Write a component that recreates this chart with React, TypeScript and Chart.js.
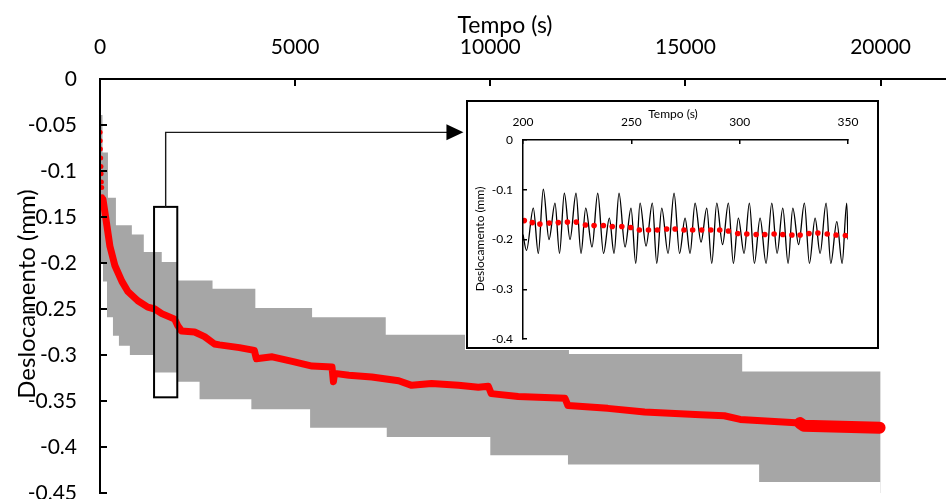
import React, { useEffect, useRef } from 'react';
import { Chart, registerables } from 'chart.js';

Chart.register(...registerables);

// ---------- main chart data ----------
const xTicks = [0, 5000, 10000, 15000, 20000];
const xTickLabels = ['0', '5000', '10000', '15000', '20000'];
const yTicks = [-0.45, -0.4, -0.35, -0.3, -0.25, -0.2, -0.15, -0.1, -0.05, 0];
const yTickLabels = ['-0.45', '-0.4', '-0.35', '-0.3', '-0.25', '-0.2', '-0.15', '-0.1', '-0.05', '0'];

// envelope of the oscillation (step edges: value holds from x[i] to x[i+1])
const bandTopX = [0, 26, 64, 204, 408, 816, 1122, 1582, 1990, 2883, 3980, 5434, 7321, 12015, 16454, 20000];
const bandTopY = [0, -0.039, -0.08, -0.129, -0.159, -0.169, -0.188, -0.199, -0.219, -0.228, -0.249, -0.259, -0.278, -0.299, -0.318, -0.318];
const bandLowX = [0, 77, 179, 332, 485, 765, 1403, 1990, 2551, 3878, 5383, 7347, 10000, 11990, 16888, 20000];
const bandLowY = [-0.2, -0.22, -0.259, -0.279, -0.29, -0.3, -0.319, -0.329, -0.348, -0.359, -0.379, -0.389, -0.409, -0.419, -0.438, -0.438];

// mean displacement
const meanX = [77, 179, 255, 383, 561, 714, 969, 1224, 1403, 1582, 1913, 1990, 2092, 2423, 2679, 2934, 3061, 3571, 3954, 4005, 4413, 4923, 5434, 5944, 5980, 6010, 6378, 6964, 7653, 7985, 8495, 9184, 9694, 9949, 10025, 10714, 11913, 11990, 13010, 13954, 15383, 15995, 16403, 17168, 17934, 18036, 19974];
const meanY = [-0.131, -0.16, -0.182, -0.203, -0.22, -0.231, -0.241, -0.248, -0.25, -0.255, -0.261, -0.268, -0.274, -0.275, -0.28, -0.288, -0.289, -0.292, -0.295, -0.304, -0.302, -0.307, -0.312, -0.313, -0.329, -0.32, -0.322, -0.324, -0.328, -0.333, -0.331, -0.333, -0.335, -0.334, -0.342, -0.345, -0.347, -0.355, -0.358, -0.362, -0.365, -0.366, -0.37, -0.372, -0.374, -0.377, -0.379];
const meanStartX = [2, 5, 9, 17, 24, 28, 34, 43, 58];
const meanStartY = [-0.058, -0.067, -0.076, -0.086, -0.095, -0.103, -0.112, -0.118, -0.128];

// zoom box and arrow (data units)
const zoomBoxX = [1385, 1980];
const zoomBoxY = [-0.139, -0.346];
const arrowY = -0.058;
const arrowTipX = 9311;

// ---------- inset data ----------
const inXTicks = [200, 250, 300, 350];
const inYTicks = [-0.4, -0.3, -0.2, -0.1, 0];
const inYTickLabels = ['-0.4', '-0.3', '-0.2', '-0.1', '0'];

const waveT = [200, 201.6, 204.76, 207.06, 209.37, 212.0, 214.77, 216.85, 219.07, 221.7, 224.47, 226.78, 228.95, 231.86, 234.49, 237.17, 239.85, 242.01, 244.32, 247.09, 249.86, 252.03, 254.02, 256.79, 259.7, 261.73, 264.04, 266.95, 269.72, 272.26, 274.8, 277.1, 279.41, 282.18, 284.81, 287.12, 289.43, 292.11, 294.79, 297.1, 299.4, 302.04, 304.48, 306.79, 309.42, 312.19, 314.82, 317.27, 319.9, 322.35, 324.52, 327.2, 329.88, 332.19, 334.82, 337.12, 339.89, 342.06, 344.83, 347.3, 349.4, 350];
const waveV = [-0.19, -0.222, -0.137, -0.228, -0.099, -0.2, -0.127, -0.228, -0.107, -0.2, -0.107, -0.228, -0.137, -0.215, -0.107, -0.228, -0.157, -0.228, -0.107, -0.215, -0.137, -0.248, -0.127, -0.213, -0.127, -0.248, -0.137, -0.228, -0.107, -0.228, -0.157, -0.228, -0.127, -0.205, -0.137, -0.248, -0.127, -0.21, -0.127, -0.248, -0.157, -0.228, -0.127, -0.248, -0.157, -0.248, -0.127, -0.228, -0.137, -0.248, -0.137, -0.21, -0.127, -0.248, -0.157, -0.228, -0.127, -0.248, -0.164, -0.248, -0.127, -0.2];

const inMeanT = [200.6, 204.3, 207.8, 212.1, 216.3, 220.5, 224.6, 228.8, 232.8, 237.1, 241.2, 245.6, 249.7, 253.7, 257.9, 262.0, 266.3, 270.2, 274.3, 278.3, 282.5, 286.7, 290.8, 294.8, 299.1, 303.3, 307.6, 311.6, 315.9, 319.9, 324.1, 327.9, 332.0, 336.1, 340.4, 344.5, 348.8];
const inMeanV = [-0.162, -0.166, -0.169, -0.167, -0.166, -0.165, -0.165, -0.171, -0.172, -0.172, -0.174, -0.174, -0.176, -0.181, -0.181, -0.181, -0.179, -0.179, -0.181, -0.181, -0.181, -0.181, -0.181, -0.183, -0.188, -0.189, -0.19, -0.19, -0.189, -0.19, -0.191, -0.191, -0.188, -0.187, -0.189, -0.191, -0.192];

const FONT = 'Lato';
const GRAY = '#a6a6a6';
const RED = '#ff0000';

const pts = (xs: number[], ys: number[]) => xs.map((x, i) => ({ x, y: ys[i] }));
// step edge: each value is held until the next x
const stepPts = (xs: number[], ys: number[]) => {
  const out: { x: number; y: number }[] = [];
  xs.forEach((x, i) => {
    if (i > 0) out.push({ x, y: ys[i - 1] });
    out.push({ x, y: ys[i] });
  });
  return out;
};

const axisStyle = (lw: number, tl: number) => ({
  grid: { drawOnChartArea: false, drawTicks: true, tickLength: tl, color: '#000', lineWidth: lw, z: 1 },
  border: { display: true, color: '#000', width: lw, z: 1 },
});

export default function App() {
  const mainRef = useRef<HTMLCanvasElement>(null);
  const insetRef = useRef<HTMLCanvasElement>(null);

  useEffect(() => {
    const mainDecor = {
      id: 'mainDecor',
      afterDraw(chart: any) {
        const { ctx, scales } = chart;
        const x = scales.x, y = scales.y;
        ctx.save();
        const bx0 = x.getPixelForValue(zoomBoxX[0]);
        const bx1 = x.getPixelForValue(zoomBoxX[1]);
        const by0 = y.getPixelForValue(zoomBoxY[0]);
        const by1 = y.getPixelForValue(zoomBoxY[1]);
        ctx.strokeStyle = '#000';
        ctx.lineWidth = 2;
        ctx.strokeRect(bx0, by0, bx1 - bx0, by1 - by0);
        const cx = (bx0 + bx1) / 2;
        const ay = y.getPixelForValue(arrowY);
        const tip = x.getPixelForValue(arrowTipX);
        ctx.lineWidth = 1.4;
        ctx.strokeStyle = '#1a1a1a';
        ctx.beginPath();
        ctx.moveTo(cx, by0);
        ctx.lineTo(cx, ay);
        ctx.lineTo(tip - 15, ay);
        ctx.stroke();
        ctx.fillStyle = '#000';
        ctx.beginPath();
        ctx.moveTo(tip, ay);
        ctx.lineTo(tip - 17, ay - 8);
        ctx.lineTo(tip - 17, ay + 8);
        ctx.closePath();
        ctx.fill();
        // titles
        ctx.fillStyle = '#000';
        ctx.textAlign = 'center';
        ctx.textBaseline = 'alphabetic';
        ctx.font = `23px ${FONT}`;
        ctx.fillText('Tempo (s)', 505, 33);
        ctx.translate(35, 294);
        ctx.rotate(-Math.PI / 2);
        ctx.font = `24px ${FONT}`;
        ctx.fillText('Deslocamento (mm)', 0, 0);
        ctx.restore();
      },
    };

    const main = new Chart(mainRef.current!, {
      type: 'line',
      data: {
        datasets: [
          {
            data: pts(meanX, meanY),
            order: 0,
            borderColor: RED,
            borderWidth: 7,
            pointRadius: 0,
            fill: false,
            borderJoinStyle: 'round',
            borderCapStyle: 'round',
            segment: {
              borderWidth: (c: any) => (c.p0.parsed.x >= 17934 ? 12 : 7),
            },
          },
          {
            data: pts(meanStartX, meanStartY),
            order: 0,
            showLine: false,
            pointRadius: 2.5,
            pointBackgroundColor: RED,
            pointBorderWidth: 0,
            fill: false,
          },
          {
            // lower envelope: blank out below it
            data: stepPts(bandLowX, bandLowY),
            order: 1,
            borderWidth: 0,
            pointRadius: 0,
            fill: 'start',
            backgroundColor: '#ffffff',
            borderColor: 'rgba(0,0,0,0)',
          },
          {
            // upper envelope: grey down from it
            data: stepPts(bandTopX, bandTopY),
            order: 2,
            borderWidth: 0,
            pointRadius: 0,
            fill: 'start',
            backgroundColor: GRAY,
            borderColor: 'rgba(0,0,0,0)',
          },
        ],
      } as any,
      options: {
        responsive: false,
        animation: false,
        devicePixelRatio: 1,
        layout: { padding: { left: 0, right: 0, top: 0, bottom: 6 } },
        plugins: { legend: { display: false }, tooltip: { enabled: false } },
        scales: {
          x: {
            type: 'linear',
            position: 'top',
            min: 0,
            max: 21650,
            afterBuildTicks: (s: any) => {
              s.ticks = xTicks.map((v) => ({ value: v }));
            },
            afterFit: (s: any) => {
              s.height = 79;
              s.paddingLeft = 0;
              s.paddingRight = 0;
            },
            ticks: {
              color: '#000',
              font: { family: FONT, size: 21 },
              padding: 26,
              maxRotation: 0,
              autoSkip: false,
              z: 1,
              callback: (v: any) => xTickLabels[xTicks.indexOf(v)],
            },
            ...axisStyle(2, -7),
          } as any,
          y: {
            type: 'linear',
            position: 'left',
            min: -0.45,
            max: 0,
            afterBuildTicks: (s: any) => {
              s.ticks = yTicks.map((v) => ({ value: v }));
            },
            afterFit: (s: any) => {
              s.width = 100;
              s.paddingTop = 0;
              s.paddingBottom = 0;
            },
            ticks: {
              color: '#000',
              font: { family: FONT, size: 21 },
              padding: 30,
              autoSkip: false,
              z: 1,
              callback: (v: any) => yTickLabels[yTicks.indexOf(v)],
            },
            ...axisStyle(2, -7),
          } as any,
        },
      },
      plugins: [mainDecor],
    });

    const insetDecor = {
      id: 'insetDecor',
      beforeDraw(chart: any) {
        const { ctx, width, height } = chart;
        ctx.save();
        ctx.fillStyle = '#fff';
        ctx.fillRect(0, 0, width, height);
        ctx.restore();
      },
      afterDraw(chart: any) {
        const { ctx } = chart;
        ctx.save();
        ctx.strokeStyle = '#000';
        ctx.lineWidth = 2;
        ctx.strokeRect(2, 2, 411, 247);
        ctx.fillStyle = '#000';
        ctx.textAlign = 'center';
        ctx.textBaseline = 'alphabetic';
        ctx.font = `12px ${FONT}`;
        ctx.fillText('Tempo (s)', 208, 19);
        ctx.translate(19, 140);
        ctx.rotate(-Math.PI / 2);
        ctx.fillText('Deslocamento (mm)', 0, 0);
        ctx.restore();
      },
    };

    const inset = new Chart(insetRef.current!, {
      type: 'line',
      data: {
        datasets: [
          {
            data: pts(inMeanT, inMeanV),
            order: 0,
            showLine: false,
            pointRadius: 2.8,
            pointBackgroundColor: RED,
            pointBorderWidth: 0,
            fill: false,
          },
          {
            data: pts(waveT, waveV),
            order: 1,
            borderColor: '#000',
            borderWidth: 1.3,
            pointRadius: 0,
            cubicInterpolationMode: 'monotone',
            fill: false,
          },
        ],
      } as any,
      options: {
        responsive: false,
        animation: false,
        devicePixelRatio: 1,
        layout: { padding: { left: 0, right: 32, top: 0, bottom: 11 } },
        plugins: { legend: { display: false }, tooltip: { enabled: false } },
        scales: {
          x: {
            type: 'linear',
            position: 'top',
            min: 200,
            max: 350,
            afterBuildTicks: (s: any) => {
              s.ticks = inXTicks.map((v) => ({ value: v }));
            },
            afterFit: (s: any) => {
              s.height = 41;
              s.paddingLeft = 0;
              s.paddingRight = 0;
            },
            ticks: {
              color: '#000',
              font: { family: FONT, size: 12 },
              padding: 15,
              maxRotation: 0,
              autoSkip: false,
              z: 1,
              callback: (v: any) => String(v),
            },
            ...axisStyle(1.5, -4),
          } as any,
          y: {
            type: 'linear',
            position: 'left',
            min: -0.4,
            max: 0,
            afterBuildTicks: (s: any) => {
              s.ticks = inYTicks.map((v) => ({ value: v }));
            },
            afterFit: (s: any) => {
              s.width = 58;
              s.paddingTop = 0;
              s.paddingBottom = 0;
            },
            ticks: {
              color: '#000',
              font: { family: FONT, size: 12 },
              padding: 14,
              autoSkip: false,
              z: 1,
              callback: (v: any) => inYTickLabels[inYTicks.indexOf(v)],
            },
            ...axisStyle(1.5, -4),
          } as any,
        },
      },
      plugins: [insetDecor],
    });

    return () => {
      main.destroy();
      inset.destroy();
    };
  }, []);

  return (
    <div style={{ position: 'fixed', left: 0, top: 0, width: 949, height: 499, background: '#fff', overflow: 'hidden' }}>
      <canvas ref={mainRef} width={949} height={499} style={{ position: 'absolute', left: 0, top: 0 }} />
      <canvas ref={insetRef} width={415} height={251} style={{ position: 'absolute', left: 465, top: 99 }} />
    </div>
  );
}
